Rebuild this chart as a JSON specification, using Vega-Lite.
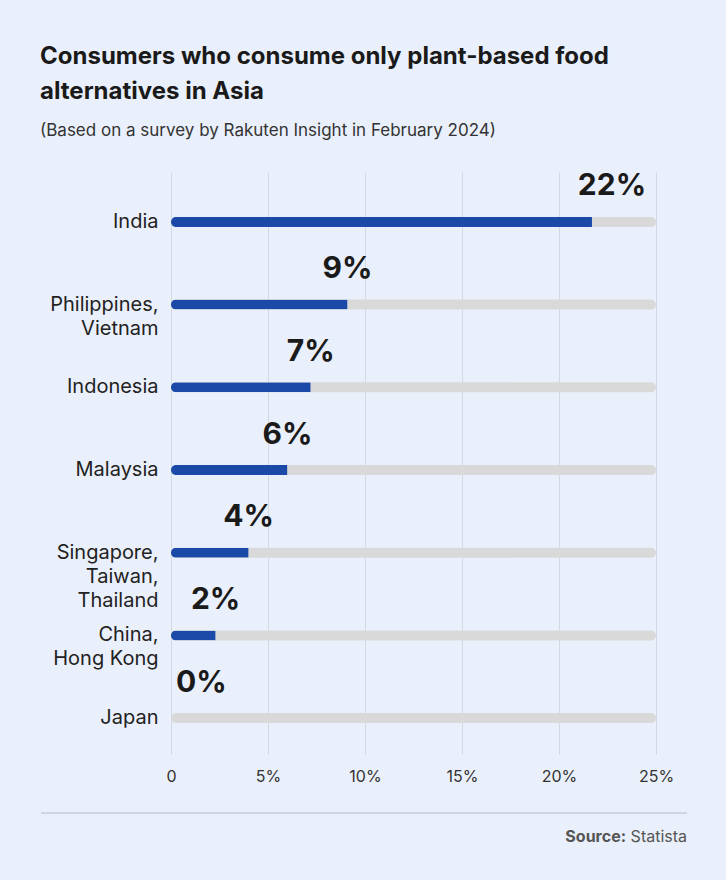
{
  "$schema": "https://vega.github.io/schema/vega-lite/v6.json",
  "background": "#EAF0FB",
  "padding": {"left": 40, "right": 40, "top": 45, "bottom": 35},
  "config": {
    "view": {"stroke": null},
    "font": "Inter",
    "concat": {"spacing": 28}
  },
  "title": {
    "text": ["Consumers who consume only plant-based food", "alternatives in Asia"],
    "subtitle": "(Based on a survey by Rakuten Insight in February 2024)",
    "anchor": "start",
    "frame": "bounds",
    "font": "Inter",
    "fontSize": 24,
    "fontWeight": 700,
    "lineHeight": 35,
    "color": "#1A1A1A",
    "subtitleFont": "Inter",
    "subtitleFontSize": 17,
    "subtitleColor": "#333333",
    "subtitlePadding": 19,
    "offset": 32
  },
  "resolve": {"scale": {"x": "independent", "y": "independent"}},
  "vconcat": [
    {
      "width": 485,
      "height": 582,
      "data": {
        "values": [
          {"country": "India", "value": 21.7, "label": "22%"},
          {"country": "Philippines,\nVietnam", "value": 9.1, "label": "9%"},
          {"country": "Indonesia", "value": 7.2, "label": "7%"},
          {"country": "Malaysia", "value": 6.0, "label": "6%"},
          {"country": "Singapore,\nTaiwan,\nThailand", "value": 4.0, "label": "4%"},
          {"country": "China,\nHong Kong", "value": 2.3, "label": "2%"},
          {"country": "Japan", "value": 0, "label": "0%"}
        ]
      },
      "encoding": {
        "y": {
          "field": "country",
          "type": "nominal",
          "sort": null,
          "scale": {"paddingInner": 0, "paddingOuter": 0.019},
          "axis": {
            "title": null,
            "domain": false,
            "ticks": false,
            "labelFont": "Inter",
            "labelFontSize": 20,
            "labelColor": "#222222",
            "labelPadding": 13,
            "labelOffset": 7,
            "labelLineHeight": 24,
            "labelExpr": "split(datum.label, '\\n')"
          }
        }
      },
      "layer": [
        {
          "mark": {"type": "bar", "color": "#D9D9D9", "size": 10, "cornerRadius": 5, "yOffset": 7},
          "encoding": {
            "x": {
              "datum": 25,
              "type": "quantitative",
              "scale": {"domain": [0, 25], "nice": false},
              "axis": {
                "title": null,
                "values": [0, 5, 10, 15, 20, 25],
                "labelExpr": "datum.value == 0 ? '0' : datum.value + '%'",
                "labelFlush": false,
                "domain": false,
                "ticks": false,
                "grid": true,
                "gridColor": "#D3D9E3",
                "gridWidth": 1,
                "labelFont": "Inter",
                "labelFontSize": 16,
                "labelColor": "#333333",
                "labelPadding": 14
              }
            }
          }
        },
        {
          "mark": {"type": "bar", "color": "#1B49A8", "size": 10, "cornerRadiusTopLeft": 5, "cornerRadiusBottomLeft": 5, "yOffset": 7},
          "encoding": {
            "x": {"field": "value", "type": "quantitative"}
          }
        },
        {
          "transform": [{"filter": "datum.value > 0 && datum.value < 20"}],
          "mark": {"type": "text", "fontSize": 30, "fontWeight": 700, "color": "#1A1A1A", "align": "center", "baseline": "middle", "dy": -28.5},
          "encoding": {
            "x": {"field": "value", "type": "quantitative"},
            "text": {"field": "label"}
          }
        },
        {
          "transform": [{"filter": "datum.value >= 20"}],
          "mark": {"type": "text", "fontSize": 30, "fontWeight": 700, "color": "#1A1A1A", "align": "center", "baseline": "middle", "dy": -28.5, "dx": 20},
          "encoding": {
            "x": {"field": "value", "type": "quantitative"},
            "text": {"field": "label"}
          }
        },
        {
          "transform": [{"filter": "datum.value == 0"}],
          "mark": {"type": "text", "fontSize": 30, "fontWeight": 700, "color": "#1A1A1A", "align": "left", "baseline": "middle", "dy": -28.5, "dx": 5},
          "encoding": {
            "x": {"field": "value", "type": "quantitative"},
            "text": {"field": "label"}
          }
        }
      ]
    },
    {
      "width": 485,
      "height": 24,
      "data": {"values": [{"source": "Source:", "name": "Statista"}]},
      "layer": [
        {
          "mark": {"type": "rule", "color": "#CDD5E1", "strokeWidth": 2},
          "encoding": {
            "x": {"datum": -6.7, "type": "quantitative", "scale": {"domain": [0, 25], "nice": false, "zero": false}, "axis": null},
            "x2": {"datum": 26.6},
            "y": {"datum": 1, "type": "quantitative", "scale": {"domain": [0, 1], "nice": false}, "axis": null}
          }
        },
        {
          "mark": {"type": "text", "fontSize": 16, "color": "#555555", "align": "right", "baseline": "middle"},
          "encoding": {
            "x": {"datum": 26.6, "type": "quantitative"},
            "y": {"datum": 0, "type": "quantitative"},
            "text": {"field": "name"}
          }
        },
        {
          "mark": {"type": "text", "fontSize": 16, "fontWeight": 700, "color": "#555555", "align": "right", "baseline": "middle", "dx": -61},
          "encoding": {
            "x": {"datum": 26.6, "type": "quantitative"},
            "y": {"datum": 0, "type": "quantitative"},
            "text": {"field": "source"}
          }
        }
      ]
    }
  ]
}
